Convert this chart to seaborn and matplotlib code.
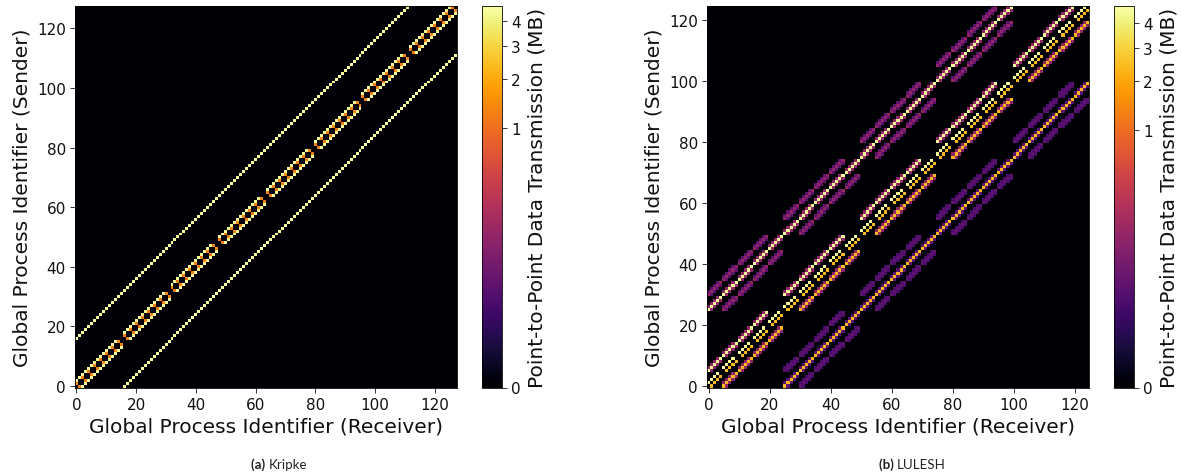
import matplotlib
matplotlib.use("Agg")
import matplotlib.pyplot as plt
from matplotlib.colors import PowerNorm
import numpy as np
import seaborn as sns

# rank layout of each run (x, y, z)
kripke_dims = (2, 8, 8)
lulesh_dims = (5, 5, 5)

# neighbour direction -> MB sent
kripke_dirs = [(1, 0, 0), (-1, 0, 0), (0, 1, 0), (0, -1, 0), (0, 0, 1), (0, 0, -1)]
kripke_mb = [1.25, 1.25, 4.4, 4.4, 4.4, 4.4]

lulesh_faces = [(1, 0, 0), (0, 1, 0), (0, 0, 1), (-1, 0, 0), (0, -1, 0), (0, 0, -1)]
lulesh_faces_mb = [2.35, 2.35, 2.35, 4.5, 4.5, 4.5]
lulesh_edges = [(1, 1, 0), (-1, 1, 0), (1, -1, 0), (-1, -1, 0),
                (1, 0, -1), (-1, 0, -1), (0, 1, -1), (0, -1, -1),
                (1, 0, 1), (-1, 0, 1), (0, 1, 1), (0, -1, 1)]
lulesh_edges_mb = [0.12, 0.12, 0.12, 0.12,
                   0.12, 0.12, 0.12, 0.12,
                   0.025, 0.025, 0.025, 0.025]
lulesh_corners = [(1, 1, -1), (-1, 1, -1), (1, -1, -1), (-1, -1, -1),
                  (1, 1, 1), (-1, 1, 1), (1, -1, 1), (-1, -1, 1)]
lulesh_corners_mb = [0.025, 0.025, 0.025, 0.025,
                     0.012, 0.012, 0.012, 0.012]

axis_ticks = [0, 20, 40, 60, 80, 100, 120]
cbar_ticks = [0, 1, 2, 3, 4]
x_label = "Global Process Identifier (Receiver)"
y_label = "Global Process Identifier (Sender)"
cbar_label = "Point-to-Point Data Transmission (MB)"


def build_matrix(dims, dirs, values):
    nx, ny, nz = dims
    n = nx * ny * nz
    mat = np.zeros((n, n))
    for s in range(n):
        x, y, z = s % nx, (s // nx) % ny, s // (nx * ny)
        for (dx, dy, dz), v in zip(dirs, values):
            rx, ry, rz = x + dx, y + dy, z + dz
            if 0 <= rx < nx and 0 <= ry < ny and 0 <= rz < nz:
                mat[s, rx + nx * ry + nx * ny * rz] = v
    return mat


def draw_panel(fig, mat, left, cbar_left, vmax):
    W, H = fig.get_size_inches() * fig.dpi
    ax = fig.add_axes([left / W, 1 - 388.5 / H, 382 / W, 381.5 / H])
    cax = fig.add_axes([cbar_left / W, 1 - 388.5 / H, 20 / W, 381.5 / H])
    sns.heatmap(mat, ax=ax, cbar_ax=cax, cmap="inferno",
                norm=PowerNorm(0.25, vmin=0, vmax=vmax),
                xticklabels=False, yticklabels=False,
                cbar_kws={"ticks": cbar_ticks})
    ax.invert_yaxis()
    ax.set_xticks(np.array(axis_ticks) + 0.5)
    ax.set_yticks(np.array(axis_ticks) + 0.5)
    ax.set_xticklabels(axis_ticks, rotation=0, fontsize=11)
    ax.set_yticklabels(axis_ticks, rotation=0, fontsize=11)
    ax.tick_params(length=3.5, width=0.6, pad=3)
    ax.set_xlabel(x_label, fontsize=14.5, labelpad=3.5)
    ax.set_ylabel(y_label, fontsize=14.5, labelpad=4)
    for sp in ax.spines.values():
        sp.set_visible(True)
        sp.set_linewidth(0.6)
    cax.tick_params(labelsize=11, length=3.5, width=0.6, pad=3)
    cax.set_ylabel(cbar_label, fontsize=14.5, labelpad=5)
    cbar = ax.collections[0].colorbar
    cbar.outline.set_visible(True)
    cbar.outline.set_linewidth(0.6)
    return ax


def caption(fig, split, tag, name):
    W, H = fig.get_size_inches() * fig.dpi
    y = 1 - 465 / H
    fig.text(split / W, y, tag + " ", ha="right", va="center", fontsize=9.6,
             family="Lato", fontweight="bold", color="#222222")
    fig.text(split / W, y, name, ha="left", va="center", fontsize=9.6,
             family="Lato", color="#222222")


sns.set_theme(style="white", rc={"axes.edgecolor": "black", "xtick.bottom": True, "ytick.left": True,
                                  "text.color": "#111111", "axes.labelcolor": "#111111",
                                  "xtick.color": "#111111", "ytick.color": "#111111"})
plt.rcParams["font.family"] = ["DejaVu Sans"]

fig = plt.figure(figsize=(11.81, 4.77), dpi=100)
kripke = build_matrix(kripke_dims, kripke_dirs, kripke_mb)
lulesh = build_matrix(lulesh_dims,
                      lulesh_faces + lulesh_edges + lulesh_corners,
                      lulesh_faces_mb + lulesh_edges_mb + lulesh_corners_mb)

draw_panel(fig, kripke, 75, 482, 4.68)
draw_panel(fig, lulesh, 707, 1114, 4.8)
caption(fig, 268.5, "(a)", "Kripke")
caption(fig, 897, "(b)", "LULESH")

fig.savefig("out.png", dpi=100)
